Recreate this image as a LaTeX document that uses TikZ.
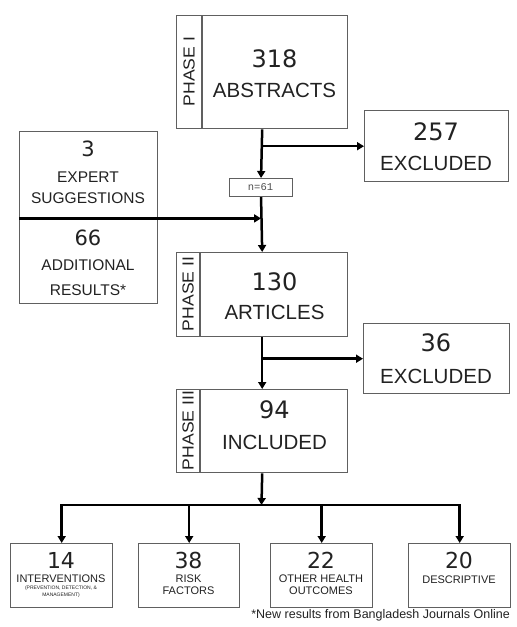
\documentclass[tikz,border=0pt]{standalone}
\usepackage{fontspec}
\setmainfont{Liberation Sans}
\newfontfamily\numfont{DejaVu Sans}
\newfontfamily\monofont{Liberation Mono}
\usetikzlibrary{arrows.meta,calc}
\definecolor{ink}{HTML}{222222}
\definecolor{frame}{HTML}{606060}
\newcommand{\fs}[1]{\fontsize{#1}{#1}\selectfont}
\begin{document}
\begin{tikzpicture}[x=1pt,y=-1pt,
  box/.style={draw=frame, line width=1.4pt, fill=white, inner sep=0pt, anchor=north west},
  divline/.style={draw=frame, line width=1.4pt},
  txt/.style={text=ink, inner sep=0pt, anchor=center},
  bignum/.style={txt, font=\numfont\fs{24}},
  bigword/.style={txt, font=\fs{20.5}},
  midnum/.style={txt, font=\numfont\fs{21}},
  midword/.style={txt, font=\fs{15.5}},
  smallnum/.style={txt, font=\numfont\fs{22}},
  smallword/.style={txt, font=\fs{11}},
  tinyword/.style={txt, font=\fs{5}},
  phaselbl/.style={txt, font=\fs{16}, rotate=90},
  arr/.style={draw=black, line width=2.5pt, -{Triangle[length=7pt,width=8pt]}},
  ]
\useasboundingbox (0,0) rectangle (517,627);

% Phase I
\node[box, minimum width=171pt, minimum height=113pt] (p1) at (176,15) {};
\draw[divline] ([xshift=26pt]p1.north west) -- ([xshift=26pt]p1.south west);
\node[phaselbl] (p1l) at (189,71.5) {\scalebox{1.1}[1]{PHASE I}};
\node[bignum] (p1n) at (274.5,59) {318};
\node[bigword] (p1w) at (274.5,90) {ABSTRACTS};

% Excluded 257
\node[box, minimum width=144pt, minimum height=71pt] (ex1) at (364,110) {};
\node[bignum] (ex1n) at (436,132) {257};
\node[bigword] (ex1w) at (436,163) {EXCLUDED};

% n=61
\node[box, minimum width=63pt, minimum height=18pt, line width=1.1pt] (n61) at (229,178) {};
\node[txt, font=\monofont\fs{10.5}, text=ink!80] (n61t) at (260.5,187) {n=61};

% Expert / additional
\node[box, minimum width=138pt, minimum height=86pt] (exp) at (19,131) {};
\node[box, minimum width=138pt, minimum height=86pt] (add) at (19,217) {};
\node[midnum] (expn) at (88,149) {3};
\node[midword] (expw1) at (88,177) {EXPERT};
\node[midword] (expw2) at (88,198) {SUGGESTIONS};
\node[midnum] (addn) at (88,238) {66};
\node[midword] (addw1) at (88,265) {ADDITIONAL};
\node[midword] (addw2) at (88,290) {RESULTS*};

% Phase II
\node[box, minimum width=171pt, minimum height=84pt] (p2) at (176,252) {};
\draw[divline] ([xshift=24pt]p2.north west) -- ([xshift=24pt]p2.south west);
\node[phaselbl] (p2l) at (188,294) {\scalebox{1.1}[1]{PHASE II}};
\node[bignum] (p2n) at (274.5,282) {130};
\node[bigword] (p2w) at (274.5,312) {ARTICLES};

% Excluded 36
\node[box, minimum width=146pt, minimum height=70pt] (ex2) at (363,323) {};
\node[bignum] (ex2n) at (436,343) {36};
\node[bigword] (ex2w) at (436,376) {EXCLUDED};

% Phase III
\node[box, minimum width=171pt, minimum height=83pt] (p3) at (176,389) {};
\draw[divline] ([xshift=24pt]p3.north west) -- ([xshift=24pt]p3.south west);
\node[phaselbl] (p3l) at (188,430.5) {\scalebox{1.1}[1]{PHASE III}};
\node[bignum] (p3n) at (274.5,410) {94};
\node[bigword] (p3w) at (274.5,442) {INCLUDED};

% Bottom boxes
\node[box, minimum width=102pt, minimum height=64pt] (b1) at (10,543) {};
\node[box, minimum width=101pt, minimum height=64pt] (b2) at (138,543) {};
\node[box, minimum width=102pt, minimum height=64pt] (b3) at (270,543) {};
\node[box, minimum width=102pt, minimum height=64pt] (b4) at (408,543) {};
\node[smallnum] (b1n) at (61,560) {14};
\node[smallword] (b1w) at (61,579) {INTERVENTIONS};
\node[tinyword] (b1s1) at (61,588) {(PREVENTION, DETECTION, \&};
\node[tinyword] (b1s2) at (61,595) {MANAGEMENT)};
\node[smallnum] (b2n) at (188.5,560) {38};
\node[smallword] (b2w1) at (188.5,579) {RISK};
\node[smallword] (b2w2) at (188.5,591) {FACTORS};
\node[smallnum] (b3n) at (321,560) {22};
\node[smallword] (b3w1) at (321,579) {OTHER HEALTH};
\node[smallword] (b3w2) at (321,591) {OUTCOMES};
\node[smallnum] (b4n) at (459,560) {20};
\node[smallword] (b4w) at (459,580) {DESCRIPTIVE};

% Footnote
\node[txt, anchor=east, font=\fs{12.5}] (foot) at (510,615) {*New results from Bangladesh Journals Online};

% Connectors
\draw[arr] (p1.south) -- (n61.north);
\draw[arr] (p1.south |- ex1.west) -- (ex1.west);
\draw[arr] (n61.south) -- (p2.north);
\draw[arr] (exp.south west) -- (n61.south |- exp.south);
\draw[arr] (p2.south) -- (p3.north);
\draw[arr] (p2.south |- ex2.west) -- (ex2.west);
\coordinate (hub) at (261.5,505);
\draw[arr] (p3.south) -- (hub);
\draw[arr] (hub) -| (b1.north);
\draw[arr] (hub) -| (b2.north);
\draw[arr] (hub) -| (b3.north);
\draw[arr] (hub) -| (b4.north);
\end{tikzpicture}
\end{document}
